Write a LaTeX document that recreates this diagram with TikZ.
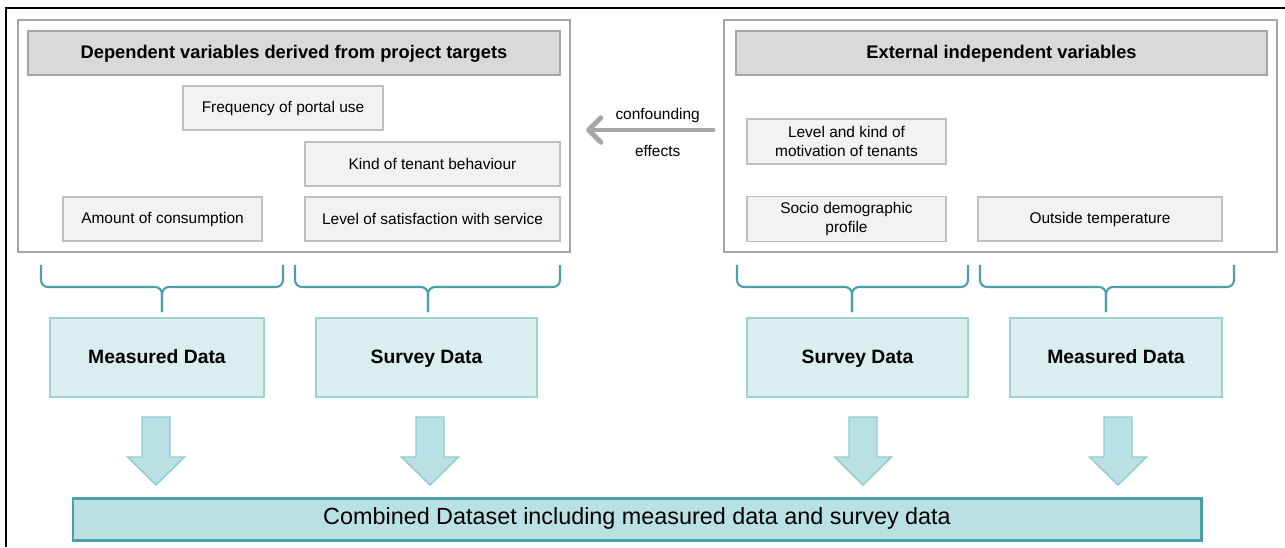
\documentclass[tikz,border=0pt]{standalone}
\usepackage{fontspec}
\setmainfont{Liberation Sans}
\usetikzlibrary{arrows.meta}

\definecolor{framegray}{HTML}{A6A6A6}
\definecolor{headgray}{HTML}{D9D9D9}
\definecolor{boxgray}{HTML}{F2F2F2}
\definecolor{boxline}{HTML}{BFBFBF}
\definecolor{tealline}{HTML}{4A9FA8}
\definecolor{datafill}{HTML}{DAEDEF}
\definecolor{dataline}{HTML}{9DD2D7}
\definecolor{arrowfill}{HTML}{B9E0E3}
\definecolor{arrowline}{HTML}{8CCBD0}

\tikzstyle{group} = [rectangle, draw=framegray, line width=1.2pt, minimum height=4.64cm]
\tikzstyle{header} = [rectangle, draw=framegray, fill=headgray, line width=0.7pt,
		minimum height=0.88cm, text height=1.6ex, text depth=0.4ex, font=\fontsize{10.4}{12}\selectfont\bfseries]
\tikzstyle{var} = [rectangle, draw=boxline, fill=boxgray, line width=0.7pt,
		minimum height=0.88cm, align=center, font=\fontsize{8.8}{10.8}\selectfont]
\tikzstyle{data} = [rectangle, draw=dataline, fill=datafill, line width=0.8pt,
		minimum height=1.58cm, text height=1.6ex, text depth=0.4ex, font=\fontsize{11}{13}\selectfont\bfseries]
\tikzstyle{brace} = [draw=tealline, line width=1.2pt, rounded corners=0.14cm]
\tikzstyle{blockarrow} = [draw=arrowline, fill=arrowfill, line width=0.8pt]
\tikzstyle{label} = [black, text height=1.6ex, text depth=0.4ex, font=\fontsize{8.8}{10}\selectfont]

\begin{document}
\begin{tikzpicture}
		\useasboundingbox (0,0) rectangle (25.7,-10.94);
		%frame
		\draw[line width=0.9pt] (0.12,-10.94) -- (0.12,-0.16) -- (25.7,-0.16);
		
		%Dependent variables
		\node [group, minimum width=11.04cm] (grpL) at (5.88,-2.72) {};
		\node [header, minimum width=10.64cm] (headL) at (5.88,-1.06) {Dependent variables derived from project targets};
		\node [var, minimum width=4cm] (freq) at (5.66,-2.16) {Frequency of portal use};
		\node [var, minimum width=5.1cm] (kind) at (8.65,-3.28) {Kind of tenant behaviour};
		\node [var, minimum width=3.98cm] (amount) at (3.25,-4.38) {Amount of consumption};
		\node [var, minimum width=5.1cm] (satis) at (8.65,-4.38) {Level of satisfaction with service};
		
		%External variables
		\node [group, minimum width=11.06cm] (grpR) at (20.01,-2.72) {};
		\node [header, minimum width=10.62cm] (headR) at (20.03,-1.06) {External independent variables};
		\node [var, minimum width=3.98cm, minimum height=0.9cm] (motiv) at (16.93,-2.83) {Level and kind of\\motivation of tenants};
		\node [var, minimum width=3.98cm] (socio) at (16.93,-4.38) {Socio demographic\\profile};
		\node [var, minimum width=4.88cm] (temp) at (22.0,-4.38) {Outside temperature};
		
		%confounding
		\draw[line width=2.8pt, color=framegray, line cap=round, -{Straight Barb[length=7pt,width=14pt,round]},
			shorten <=0.2cm, shorten >=0.3cm] ([yshift=0.12cm]grpR.west) -- ([yshift=0.12cm]grpL.east)
			node[pos=0.43, yshift=0.32cm, label] (conf) {confounding}
			node[pos=0.43, yshift=-0.42cm, label] (eff) {effects};
		
		%braces
		\draw [brace] (0.82,-5.30) -- (0.82,-5.74) -- (3.24,-5.74) -- (3.24,-6.24);
		\draw [brace] (5.66,-5.30) -- (5.66,-5.74) -- (3.24,-5.74) -- (3.24,-6.24);
		\draw [brace] (5.90,-5.30) -- (5.90,-5.74) -- (8.56,-5.74) -- (8.56,-6.24);
		\draw [brace] (11.20,-5.30) -- (11.20,-5.74) -- (8.56,-5.74) -- (8.56,-6.24);
		\draw [brace] (14.74,-5.30) -- (14.74,-5.74) -- (17.04,-5.74) -- (17.04,-6.24);
		\draw [brace] (19.36,-5.30) -- (19.36,-5.74) -- (17.04,-5.74) -- (17.04,-6.24);
		\draw [brace] (19.60,-5.30) -- (19.60,-5.74) -- (22.12,-5.74) -- (22.12,-6.24);
		\draw [brace] (24.68,-5.30) -- (24.68,-5.74) -- (22.12,-5.74) -- (22.12,-6.24);
		
		%data
		\node [data, minimum width=4.28cm] (meas1) at (3.14,-7.15) {Measured Data};
		\node [data, minimum width=4.42cm] (surv1) at (8.53,-7.15) {Survey Data};
		\node [data, minimum width=4.42cm] (surv2) at (17.15,-7.15) {Survey Data};
		\node [data, minimum width=4.24cm] (meas2) at (22.32,-7.15) {Measured Data};
		
		%arrows
		\draw [blockarrow] (2.84,-8.34) -- ++(0.56,0) -- ++(0,-0.8) -- ++(0.29,0) -- ++(-0.57,-0.56) -- ++(-0.57,0.56) -- ++(0.29,0) -- cycle;
		\draw [blockarrow] (8.32,-8.34) -- ++(0.56,0) -- ++(0,-0.8) -- ++(0.29,0) -- ++(-0.57,-0.56) -- ++(-0.57,0.56) -- ++(0.29,0) -- cycle;
		\draw [blockarrow] (16.98,-8.34) -- ++(0.56,0) -- ++(0,-0.8) -- ++(0.29,0) -- ++(-0.57,-0.56) -- ++(-0.57,0.56) -- ++(0.29,0) -- cycle;
		\draw [blockarrow] (22.08,-8.34) -- ++(0.56,0) -- ++(0,-0.8) -- ++(0.29,0) -- ++(-0.57,-0.56) -- ++(-0.57,0.56) -- ++(0.29,0) -- cycle;
		
		%combined
		\node [rectangle, draw=tealline, fill=arrowfill, line width=1.7pt, minimum width=22.56cm, minimum height=0.84cm,
			text height=1.6ex, text depth=0.4ex, font=\fontsize{13.3}{15}\selectfont] (comb) at (12.74,-10.38) {Combined Dataset including measured data and survey data};
		
\end{tikzpicture}
\end{document}
